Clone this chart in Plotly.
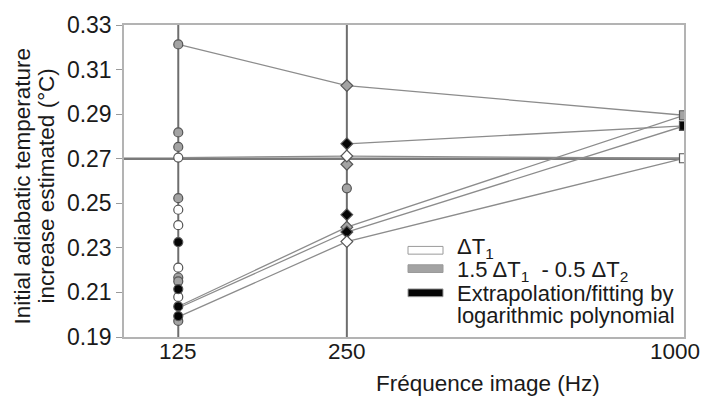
import math
import plotly.graph_objects as go

# ---------------- data ----------------
freqs = [125, 250, 1000]

# connected series (values at 125, 250, 1000 Hz)
gray_top = [0.3213, 0.3028, 0.2895]
gray_low = [0.2037, 0.2393, 0.2895]
black_top = [None, 0.2767, 0.2847]
black_low = [0.2030, 0.2371, 0.2847]
white_top = [0.2705, 0.2712, 0.2702]
white_low = [0.1990, 0.2328, 0.2702]

# individual estimates at 125 Hz (circles)
gray_125 = [0.3213, 0.2818, 0.2753, 0.2523, 0.2167, 0.2150, 0.1972]
white_125 = [0.2705, 0.2471, 0.2402, 0.2211, 0.2080]
black_125 = [0.2326, 0.2115, 0.2037, 0.1994]

# individual estimates at 250 Hz
gray_250_diamond = [0.3028, 0.2675, 0.2393]
gray_250_circle = [0.2567]
black_250 = [0.2767, 0.2449, 0.2371]
white_250 = [0.2712, 0.2328]

# 1000 Hz (squares)
gray_1000 = [0.2895]
black_1000 = [0.2847]
white_1000 = [0.2702]

ref_freqs = [125, 250]
ref_level = 0.27

y_ticks = [0.19, 0.21, 0.23, 0.25, 0.27, 0.29, 0.31, 0.33]
x_ticks = [125, 250, 1000]
x_tick_labels = ["125", "250", "1000"]

legend_labels = ["ΔT<sub>1</sub>",
                 "1.5 ΔT<sub>1</sub>  - 0.5 ΔT<sub>2</sub>",
                 "Extrapolation/fitting by",
                 "logarithmic polynomial"]

# ---------------- style ----------------
FONT = "Arial, Liberation Sans, sans-serif"
TXT = "#1a1a1a"
FS = 22.5
FS_LEG = 22
C_WHITE = "#ffffff"
C_GRAY = "#a3a3a3"
C_BLACK = "#050505"
C_EDGE = "#555555"
LINE_C = "#8c8c8c"

L, R, T, B = 124, 17, 14, 63.3
W, H = 701, 400
PW, PH = W - L - R, H - T - B


def px(xp):
    return (xp - L) / PW


def py(yp):
    return (H - B - yp) / PH


fig = go.Figure()

# connecting lines
for ys in [gray_top, gray_low, black_top, black_low, white_top, white_low]:
    fig.add_trace(go.Scatter(x=freqs, y=ys, mode="lines",
                             line=dict(color=LINE_C, width=1.3),
                             showlegend=False, hoverinfo="skip"))


def add_markers(xv, yv, fill, symbol, size):
    fig.add_trace(go.Scatter(
        x=[xv] * len(yv), y=yv, mode="markers",
        marker=dict(symbol=symbol, size=size, color=fill,
                    line=dict(color=C_EDGE, width=1.2)),
        showlegend=False))


add_markers(125, gray_125, C_GRAY, "circle", 9)
add_markers(125, white_125, C_WHITE, "circle", 9)
add_markers(125, black_125, C_BLACK, "circle", 9)
add_markers(250, gray_250_diamond, C_GRAY, "diamond", 9)
add_markers(250, gray_250_circle, C_GRAY, "circle", 9)
add_markers(250, black_250, C_BLACK, "diamond", 9)
add_markers(250, white_250, C_WHITE, "diamond", 9)
add_markers(1000, gray_1000, C_GRAY, "square", 9)
add_markers(1000, black_1000, C_BLACK, "square", 9)
add_markers(1000, white_1000, C_WHITE, "square", 9)

shapes = []
for f in ref_freqs:
    shapes.append(dict(type="line", xref="x", yref="paper", x0=f, x1=f,
                       y0=0, y1=1, line=dict(color="#6e6e6e", width=2),
                       layer="below"))
shapes.append(dict(type="line", xref="paper", yref="y", x0=0, x1=1,
                   y0=ref_level, y1=ref_level,
                   line=dict(color="#7a7a7a", width=2.6), layer="below"))

# legend boxes
box_rows = [(243, 251, C_WHITE), (262, 270, C_GRAY), (287, 295, C_BLACK)]
for y0, y1, col in box_rows:
    shapes.append(dict(type="rect", xref="paper", yref="paper",
                       x0=px(408), x1=px(443), y0=py(y1), y1=py(y0),
                       fillcolor=col, line=dict(color="#9a9a9a", width=1)))

annotations = []
for lab, yc in zip(legend_labels, [245, 268, 292, 314]):
    annotations.append(dict(text=lab, xref="paper", yref="paper",
                            x=px(455), y=py(yc), xanchor="left",
                            yanchor="middle", showarrow=False,
                            font=dict(size=FS_LEG, color=TXT, family=FONT)))

# x tick labels (log axis -> annotation x in log10 units)
for xv, lab, sh in zip(x_ticks, x_tick_labels, [0, 0, -9]):
    annotations.append(dict(text=lab, xref="x", yref="paper",
                            x=math.log10(xv), y=py(352), xanchor="center",
                            yanchor="middle", xshift=sh, showarrow=False,
                            font=dict(size=FS, color=TXT, family=FONT)))

# axis titles
annotations.append(dict(text="Fréquence image (Hz)", xref="paper",
                        yref="paper", x=px(488), y=py(385),
                        xanchor="center", yanchor="middle", showarrow=False,
                        font=dict(size=FS, color=TXT, family=FONT)))
for txt, xc in [("Initial adiabatic temperature", 22),
                ("increase estimated (°C)", 46)]:
    annotations.append(dict(text=txt, xref="paper", yref="paper",
                            x=px(xc), y=py(181), textangle=-90,
                            xanchor="center", yanchor="middle",
                            showarrow=False,
                            font=dict(size=FS, color=TXT, family=FONT)))

fig.update_layout(
    width=W, height=H,
    margin=dict(l=L, r=R, t=T, b=B),
    paper_bgcolor="white", plot_bgcolor="white",
    font=dict(family=FONT, size=FS, color=TXT),
    shapes=shapes, annotations=annotations, showlegend=False,
    xaxis=dict(type="log", range=[2, 3], showgrid=False, zeroline=False,
               showticklabels=False, ticks="", showline=True, mirror=True,
               linecolor="#b3b3b3", linewidth=1.5),
    yaxis=dict(range=[0.19, 0.33], tickvals=y_ticks,
               ticktext=[f"{v:.2f}" for v in y_ticks],
               showgrid=False, zeroline=False, ticks="outside", ticklen=6,
               tickcolor="#9a9a9a", showline=True, mirror=True,
               linecolor="#b3b3b3", linewidth=1.5,
               tickfont=dict(size=23, color=TXT, family=FONT)),
)

fig.write_html("out.html")
